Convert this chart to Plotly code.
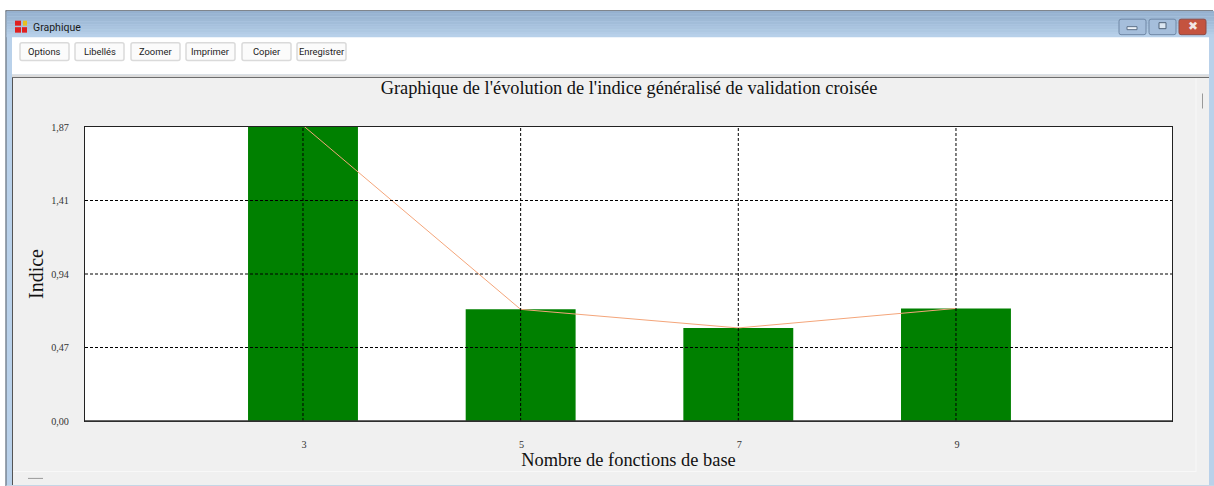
import plotly.graph_objects as go

# ---- data ----
nb_fonctions = [3, 5, 7, 9]
indice = [1.88, 0.71, 0.592, 0.716]
y_ticks = [0, 0.4675, 0.935, 1.4025, 1.87]
y_tick_labels = ["0,00", "0,47", "0,94", "1,41", "1,87"]
x_tick_labels = ["3", "5", "7", "9"]
boutons = ["Options", "Libellés", "Zoomer", "Imprimer", "Copier", "Enregistrer"]
titre = "Graphique de l'évolution de l'indice généralisé de validation croisée"
titre_x = "\u00a0Nombre de fonctions de base"
titre_y = "Indice"

W, H = 1214, 486
L, R, T, B = 85, 1172, 126.5, 421
shapes, annots = [], []


def px(v):
    return (v - L) / (R - L)


def py(v):
    return (B - v) / (B - T)


def rect(x0, y0, x1, y1, fill, line=None, lw=1, layer="below"):
    shapes.append(dict(type="rect", xref="paper", yref="paper", layer=layer,
                       x0=px(x0), x1=px(x1), y0=py(y1), y1=py(y0), fillcolor=fill,
                       line=dict(color=line or fill, width=lw if line else 0)))


def round_rect(x0, y0, x1, y1, r, fill, line, lw=1):
    a, b, c, d = px(x0), px(x1), py(y0), py(y1)
    rx, ry = r / (R - L), r / (B - T)
    path = (f"M {a + rx} {c} L {b - rx} {c} Q {b} {c} {b} {c - ry} L {b} {d + ry} Q {b} {d} {b - rx} {d} "
            f"L {a + rx} {d} Q {a} {d} {a} {d + ry} L {a} {c - ry} Q {a} {c} {a + rx} {c} Z")
    shapes.append(dict(type="path", xref="paper", yref="paper", layer="below", path=path,
                       fillcolor=fill, line=dict(color=line, width=lw)))


def text(x, y, s, size=10, color="#222222", fam="Roboto", anchor="center"):
    annots.append(dict(xref="paper", yref="paper", x=px(x), y=py(y), text=s, showarrow=False,
                       xanchor=anchor, yanchor="middle", font=dict(size=size, color=color, family=fam)))


# ---- window chrome ----
rect(0, 0, W, H, "#ffffff")
rect(5.5, 10, W, H, "#b9d1ea")
rect(5.5, 9.5, W - 1, 10.5, "#5a6068")
rect(5.5, 10, 6.5, H, "#5a6068")
tb = ["#95b0cf", "#99b4d2", "#9cb7d4", "#9fbad6", "#a2bdd9", "#a6c0dc", "#aac4df", "#aec8e2", "#b3cce6", "#b7d0e9"]
for i, c in enumerate(tb):
    rect(6.5, 10.5 + i * 2.6, W, 10.5 + (i + 1) * 2.6, c)
rect(12, 36.5, 1209, 74, "#ffffff")
rect(12, 74, 1209, 76.5, "#dcdcdc")
rect(12, 76.5, 1209, 77.5, "#6d6d6d")
rect(12, 77.5, 1209, 485, "#f0f0f0")
rect(12, 77.5, 13, 485, "#555555")
rect(13, 471, 1196, 472, "#f8f8f8")
rect(1195.5, 78, 1196.5, 472, "#f8f8f8")
rect(6.5, 485, W, H, "#c5d6e6")
rect(1202, 93, 1203, 108, "#999999")
rect(28, 478, 43, 479, "#999999")

# window buttons
round_rect(1119, 18.5, 1146, 34, 2, "#a5bedb", "#7088a6")
rect(1127, 26, 1137, 29, "#eef3f8", "#5d7088")
round_rect(1149, 18.5, 1176, 34, 2, "#a5bedb", "#7088a6")
rect(1159, 22, 1166, 28, "#dbe6f1", "#4f6378")
round_rect(1179, 18.5, 1206, 34, 2, "#c4533f", "#8f4a45")
text(1192.5, 25.5, "✖", 12, "#f2e6e4", "DejaVu Sans")

# app icon
rect(15, 20, 21, 25, "#e02020")
rect(23, 20, 27, 25, "#e8c020")
rect(15, 26.5, 21, 32, "#e02020")
rect(22, 26.5, 27, 32, "#e02020")
text(30.5, 27, "Graphique", 10.5, "#1a1a1a", "Roboto", "left")

# toolbar buttons
spans = [(20, 69), (75, 124), (131, 180), (186, 235), (242, 291), (297, 346)]
for label, (a, b) in zip(boutons, spans):
    round_rect(a, 42, b, 60, 2, "#fbfbfb", "#dadada", 1.5)
    text((a + b) / 2, 51, label, 9.4, "#222222", "Roboto")

# plot background
rect(L, T, R, B, "#ffffff")

# dashed grid drawn above the bars, from the tick values
for v in nb_fonctions:
    shapes.append(dict(type="line", xref="x", yref="paper", x0=v, x1=v, y0=0, y1=1, layer="above",
                       line=dict(color="#000000", width=1, dash="3px,2px")))
for v in y_ticks[1:-1]:
    shapes.append(dict(type="line", xref="paper", yref="y", x0=0, x1=1, y0=v, y1=v, layer="above",
                       line=dict(color="#000000", width=1, dash="3px,2px")))
# frame
shapes.append(dict(type="line", xref="paper", yref="paper", x0=0, x1=1, y0=0, y1=0, layer="above",
                   line=dict(color="#333333", width=1.5)))

fig = go.Figure()
fig.add_bar(x=nb_fonctions, y=indice, width=1.01, marker=dict(color="#008000", line=dict(width=0)),
            cliponaxis=False)
fig.add_scatter(x=nb_fonctions, y=indice, mode="lines", line=dict(color="#f4a57a", width=1),
                cliponaxis=False)

tick_font = dict(family="Liberation Serif", size=10.2, color="#333333")
fig.update_layout(
    width=W, height=H, autosize=False, showlegend=False,
    margin=dict(l=L, r=W - R, t=T, b=H - B, pad=0),
    paper_bgcolor="#ffffff", plot_bgcolor="rgba(0,0,0,0)",
    shapes=shapes, annotations=annots,
    title=dict(text=titre, x=629 / W, xanchor="center", y=1 - 88 / H, yanchor="middle",
               font=dict(family="Liberation Serif", size=18.35, color="#111111")),
    xaxis=dict(range=[0.997, 10.985], tickmode="array", tickvals=nb_fonctions, ticktext=x_tick_labels,
               showgrid=False, zeroline=False, showline=True, mirror=True, linecolor="#222222", linewidth=1,
               ticks="", tickfont=tick_font, ticklabelstandoff=14, ticklabelshift=1,
               title=dict(text=titre_x, standoff=2,
                          font=dict(family="Liberation Serif", size=18.4, color="#111111"))),
    yaxis=dict(range=[0, 1.87], tickmode="array", tickvals=y_ticks, ticktext=y_tick_labels,
               showgrid=False, zeroline=False, showline=True, mirror=True, linecolor="#222222", linewidth=1,
               ticks="", tickfont=tick_font, ticklabelstandoff=13,
               title=dict(text=titre_y, standoff=2,
                          font=dict(family="Liberation Serif", size=20, color="#111111"))),
)

fig.write_html("out.html", config=dict(displayModeBar=False),
               post_script="document.body.style.margin='0';document.body.style.overflow='hidden';")
